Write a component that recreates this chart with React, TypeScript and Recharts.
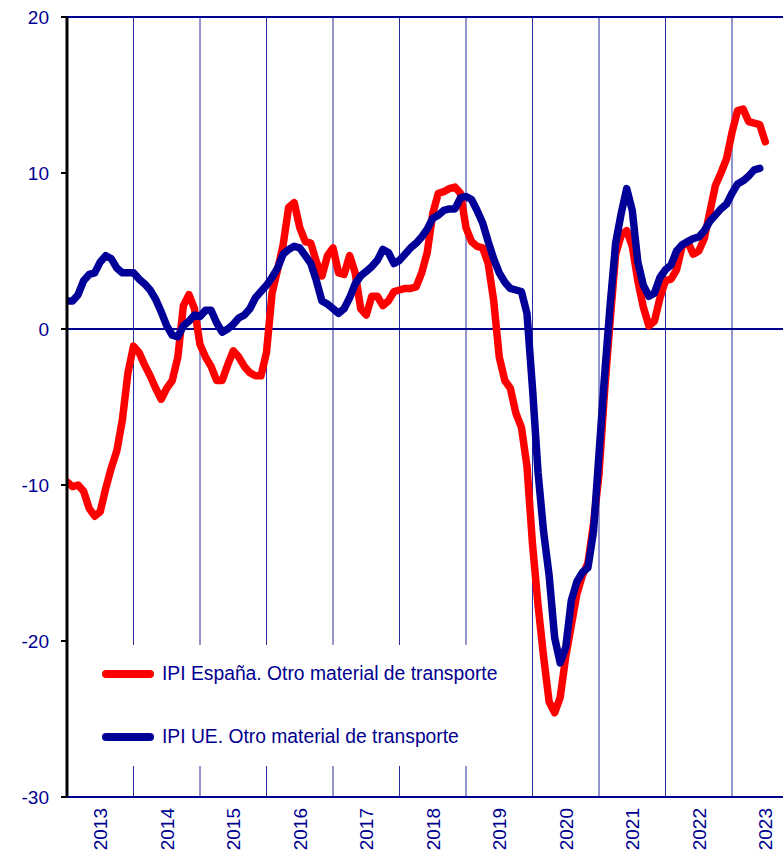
import React from "react";
import {
  LineChart, Line, XAxis, YAxis, ReferenceLine, Legend,
} from "recharts";

// Monthly values, Jan 2013 onwards
const SPAIN = [
  -9.8, -10.1, -10.0, -10.4, -11.5, -12.0, -11.7, -10.2, -8.9, -7.8, -5.8, -2.8,
  -1.1, -1.5, -2.3, -3.0, -3.8, -4.5, -3.8, -3.3, -1.8, 1.5, 2.2, 1.3,
  -1.0, -1.8, -2.4, -3.3, -3.3, -2.3, -1.4, -1.8, -2.4, -2.8, -3.0, -3.0,
  -1.5, 2.3, 3.8, 5.4, 7.8, 8.1, 6.5, 5.6, 5.5, 4.3, 3.4, 4.7,
  5.2, 3.6, 3.5, 4.7, 3.6, 1.3, 0.9, 2.1, 2.1, 1.5, 1.8, 2.4,
  2.5, 2.6, 2.6, 2.7, 3.6, 4.9, 7.4, 8.7, 8.8, 9.0, 9.1, 8.7,
  6.5, 5.6, 5.3, 5.2, 4.2, 1.8, -1.8, -3.3, -3.8, -5.4, -6.3, -8.8,
  -13.8, -17.7, -21.0, -23.9, -24.6, -23.6, -21.0, -19.0, -17.0, -15.8, -15.0, -12.5,
  -9.3, -4.0, 0.5, 4.8, 6.0, 6.3, 5.3, 3.1, 1.4, 0.2, 0.5, 2.0,
  3.1, 3.2, 3.8, 5.3, 5.6, 4.8, 5.0, 5.8, 7.5, 9.2, 10.0, 10.9,
  12.6, 14.0, 14.1, 13.3, 13.2, 13.1, 12.0,
];

const UE = [
  1.8, 1.8, 2.2, 3.1, 3.5, 3.6, 4.3, 4.7, 4.5, 3.9, 3.6, 3.6,
  3.6, 3.2, 2.9, 2.5, 1.9, 1.1, 0.2, -0.4, -0.5, 0.2, 0.5, 0.9,
  0.8, 1.2, 1.2, 0.4, -0.2, 0.0, 0.3, 0.7, 0.9, 1.3, 2.0, 2.4,
  2.8, 3.3, 3.9, 4.8, 5.1, 5.3, 5.2, 4.7, 4.2, 3.1, 1.8, 1.6,
  1.3, 1.0, 1.3, 2.0, 2.9, 3.4, 3.7, 4.0, 4.4, 5.1, 4.9, 4.2,
  4.4, 4.8, 5.2, 5.5, 5.9, 6.4, 7.1, 7.3, 7.6, 7.7, 7.7, 8.4,
  8.5, 8.3, 7.6, 6.8, 5.6, 4.5, 3.6, 3.0, 2.6, 2.5, 2.4, 1.0,
  -3.8, -9.2, -13.0, -15.8, -19.8, -21.4, -20.4, -17.4, -16.2, -15.6, -15.3, -13.0,
  -8.0, -3.0, 1.5, 5.5, 7.4, 9.0, 7.6, 4.3, 2.8, 2.1, 2.3, 3.3,
  3.8, 4.1, 5.0, 5.4, 5.6, 5.8, 5.9, 6.3, 6.9, 7.3, 7.7, 8.0,
  8.7, 9.3, 9.5, 9.8, 10.2, 10.3,
];

const YEARS = ["2013", "2014", "2015", "2016", "2017", "2018", "2019", "2020", "2021", "2022", "2023"];
const Y_TICKS = [-30, -20, -10, 0, 10, 20];

const NAVY = "#000090";
const FONT = "'Liberation Sans', Arial, sans-serif";

const data = SPAIN.map((v, i) => ({ t: i, es: v, ue: UE[i] }));
const yearMid = YEARS.map((_, i) => i * 12 + 6);
const yearStarts = YEARS.slice(1).map((_, i) => (i + 1) * 12);

const YearTick = ({ x, y, payload }: any) => {
  const label = YEARS[Math.round((payload.value - 6) / 12)];
  return (
    <text
      x={x}
      y={y + 3}
      transform={`rotate(-90 ${x} ${y + 3})`}
      textAnchor="end"
      dy="0.36em"
      fill={NAVY}
      fontSize={19}
      fontFamily={FONT}
    >
      {label}
    </text>
  );
};

const LegendBox = () => (
  <div style={{ position: "relative", width: "100%", height: "100%", background: "#fff", fontFamily: FONT }}>
    {[
      { color: "#ff0000", text: "IPI España. Otro material de transporte", top: 29 },
      { color: "#000099", text: "IPI UE. Otro material de transporte", top: 92 },
    ].map((it) => (
      <div key={it.text}>
        <div
          style={{
            position: "absolute", left: 33, top: it.top - 4, width: 52, height: 8,
            borderRadius: 4, background: it.color,
          }}
        />
        <div
          style={{
            position: "absolute", left: 93, top: it.top - 11, fontSize: 19.3,
            lineHeight: "22px", color: NAVY, whiteSpace: "nowrap", textAlign: "left",
          }}
        >
          {it.text}
        </div>
      </div>
    ))}
  </div>
);

export default function App() {
  return (
    <div style={{ position: "absolute", left: 0, top: 0, width: 783, height: 858, background: "#fff" }}>
      <LineChart width={783} height={858} data={data} margin={{ top: 17, right: 0, left: 0, bottom: 0 }}>
        <XAxis
          dataKey="t"
          type="number"
          domain={[0, 129.2]}
          ticks={yearMid}
          tick={<YearTick />}
          tickLine={false}
          height={61}
          axisLine={{ stroke: NAVY, strokeWidth: 2 }}
          interval={0}
          allowDataOverflow
        />
        <YAxis
          domain={[-30, 20]}
          ticks={Y_TICKS}
          width={67}
          axisLine={{ stroke: "#000", strokeWidth: 3 }}
          tickLine={{ stroke: "#000", strokeWidth: 2 }}
          tickSize={6}
          tickMargin={12}
          tick={{ fill: NAVY, fontSize: 19, fontFamily: FONT }}
          interval={0}
        />
        {yearStarts.map((t) => (
          <ReferenceLine key={t} x={t} stroke="#2a2aa0" strokeWidth={1} />
        ))}
        <ReferenceLine y={20} stroke={NAVY} strokeWidth={2} />
        <ReferenceLine y={0} stroke={NAVY} strokeWidth={2} />
        <Legend
          content={<LegendBox />}
          layout="horizontal"
          verticalAlign="middle"
          align="center"
          wrapperStyle={{ position: "absolute", left: 69, top: 645, width: 444, height: 121 }}
        />
        <Line
          dataKey="es"
          stroke="#ff0000"
          strokeWidth={7.5}
          dot={false}
          type="linear"
          strokeLinejoin="round"
          strokeLinecap="round"
          isAnimationActive={false}
        />
        <Line
          dataKey="ue"
          stroke="#000099"
          strokeWidth={7.5}
          dot={false}
          type="linear"
          strokeLinejoin="round"
          strokeLinecap="round"
          isAnimationActive={false}
        />
      </LineChart>
    </div>
  );
}
